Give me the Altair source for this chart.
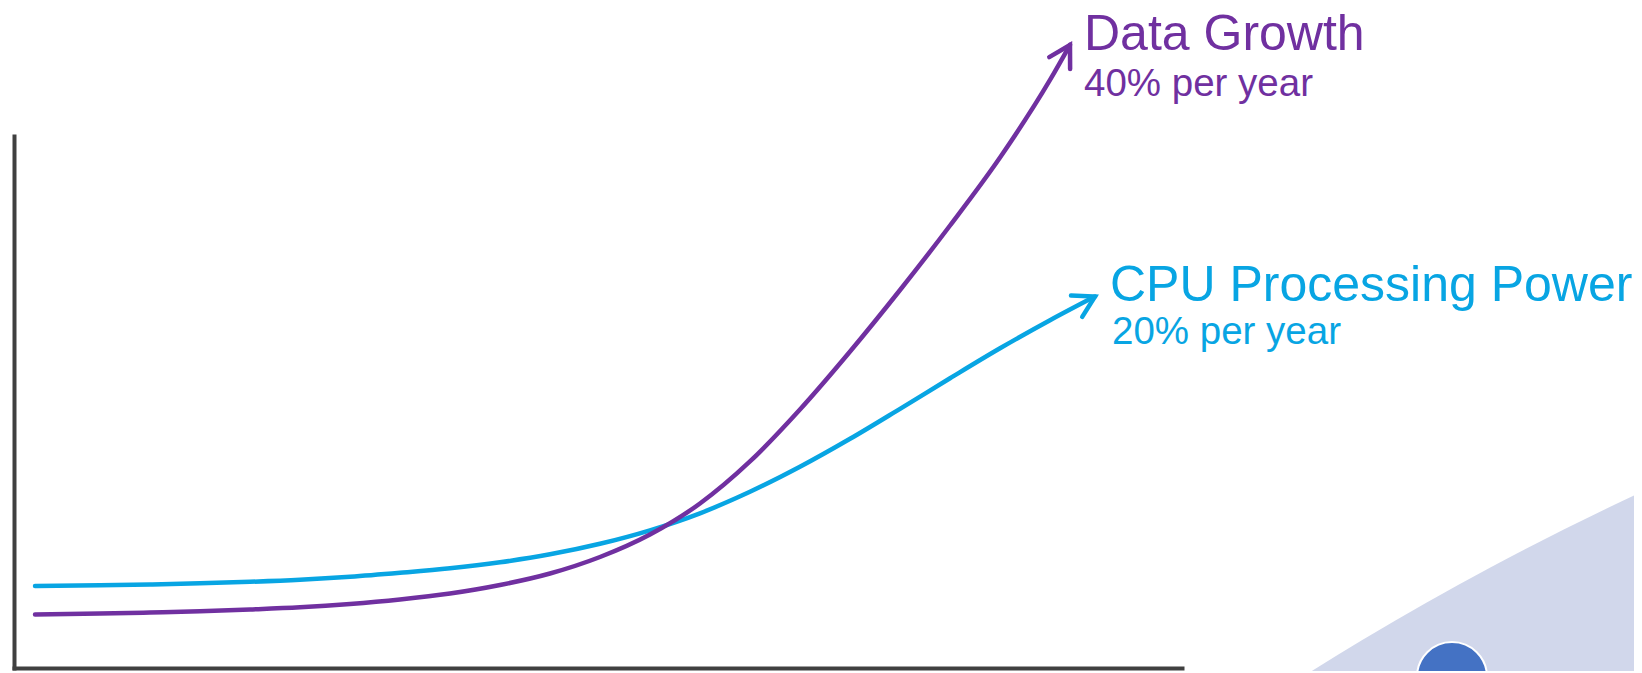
import math
import altair as alt
import pandas as pd

# ---- data (time units 0-100 on x, value 0-100 on y) ----
series_names = ["CPU Processing Power", "Data Growth"]
rate_labels = ["20% per year", "40% per year"]
series_colors = ["#08A5E3", "#7030A0"]

t_cpu = [1.80, 7.36, 11.64, 15.92, 20.21, 24.49, 28.77, 33.05, 37.33, 41.61, 45.89,
         50.17, 54.45, 58.73, 63.01, 67.29, 71.58, 75.86, 80.14, 84.42, 88.70, 92.55]
v_cpu = [15.41, 15.56, 15.71, 15.92, 16.20, 16.58, 17.14, 17.89, 18.74, 19.87, 21.37,
         23.35, 25.88, 29.08, 33.12, 37.82, 43.08, 48.72, 54.46, 60.09, 65.36, 69.83]

t_data = [1.80, 7.36, 11.64, 15.92, 20.21, 24.49, 28.77, 33.05, 37.33, 41.61, 45.89,
          50.17, 54.45, 58.73, 63.01, 67.29, 71.58, 75.86, 80.14, 84.42, 88.70, 90.41]
v_data = [10.06, 10.24, 10.43, 10.66, 11.00, 11.41, 12.03, 12.88, 14.00, 15.60, 17.76,
          20.86, 25.09, 30.92, 38.82, 48.59, 59.49, 71.05, 83.18, 95.96, 110.53, 117.11]

# ---- layout ----
W, H = 1168, 532
PX_X = W / 100.0
PX_Y = H / 100.0

rows = []
for name, ts, vs in [(series_names[0], t_cpu, v_cpu), (series_names[1], t_data, v_data)]:
    for i, (t, v) in enumerate(zip(ts, vs)):
        rows.append({"series": name, "t": t, "v": v, "order": i})
df = pd.DataFrame(rows)

tips = []
for name, ts, vs in [(series_names[0], t_cpu, v_cpu), (series_names[1], t_data, v_data)]:
    dx = (ts[-1] - ts[-2]) * PX_X
    dy = (vs[-1] - vs[-2]) * PX_Y
    tips.append({"series": name, "t": ts[-1], "v": vs[-1],
                 "angle": math.degrees(math.atan2(dx, dy))})
tips_df = pd.DataFrame(tips)

color_scale = alt.Scale(domain=series_names, range=series_colors)

xenc = alt.X("t:Q", scale=alt.Scale(domain=[0, 100], nice=False, zero=False),
             axis=alt.Axis(domain=True, ticks=False, labels=False, grid=False, title=None,
                           domainColor="#404040", domainWidth=4, domainCap="square"))
yenc = alt.Y("v:Q", scale=alt.Scale(domain=[0, 100], nice=False, zero=False),
             axis=alt.Axis(domain=True, ticks=False, labels=False, grid=False, title=None,
                           domainColor="#404040", domainWidth=4, domainCap="square"))

one = pd.DataFrame({"k": [0]})

# decorative slide shapes (bottom right)
lavender = alt.Chart(one).mark_point(
    shape="circle", filled=True, fill="#D1D7EB", opacity=1, size=36000000
).encode(x=alt.value(2891), y=alt.value(3077))

dot = alt.Chart(one).mark_point(
    shape="circle", filled=True, fill="#4472C4", stroke="white", strokeWidth=2,
    opacity=1, size=4900
).encode(x=alt.value(1438), y=alt.value(541))

lines = alt.Chart(df).mark_line(strokeWidth=4.5, interpolate="monotone", strokeCap="round").encode(
    x=xenc, y=yenc, order="order:Q",
    color=alt.Color("series:N", scale=color_scale, legend=None),
    detail="series:N",
)

arrows = alt.Chart(tips_df).mark_point(
    shape="M -0.5 0.866 L 0 0 L 0.5 0.866", filled=False, strokeWidth=4.5, opacity=1,
    size=2304, strokeCap="round", strokeJoin="miter"
).encode(
    x="t:Q", y="v:Q",
    angle=alt.Angle("angle:Q", scale=None),
    color=alt.Color("series:N", scale=color_scale, legend=None),
)

FONT = "Liberation Sans"

def label(text, x, y, size, color):
    return alt.Chart(one).mark_text(
        text=text, align="left", baseline="alphabetic", font=FONT, fontSize=size, color=color
    ).encode(x=alt.value(x), y=alt.value(y))

texts = [
    label(series_names[1], 1070, -86, 50, series_colors[1]),
    label(rate_labels[1], 1070, -40, 38.5, series_colors[1]),
    label(series_names[0], 1096, 165, 50, series_colors[0]),
    label(rate_labels[0], 1098, 208, 38.5, series_colors[0]),
]

chart = alt.layer(lavender, dot, lines, arrows, *texts).properties(
    width=W, height=H,
    autosize=alt.AutoSizeParams(type="none"),
    padding={"left": 6, "top": 128, "right": 452, "bottom": 3},
    background="white",
).configure_view(strokeWidth=0)

chart.save("out.html", embed_options={"renderer": "svg", "actions": False})
